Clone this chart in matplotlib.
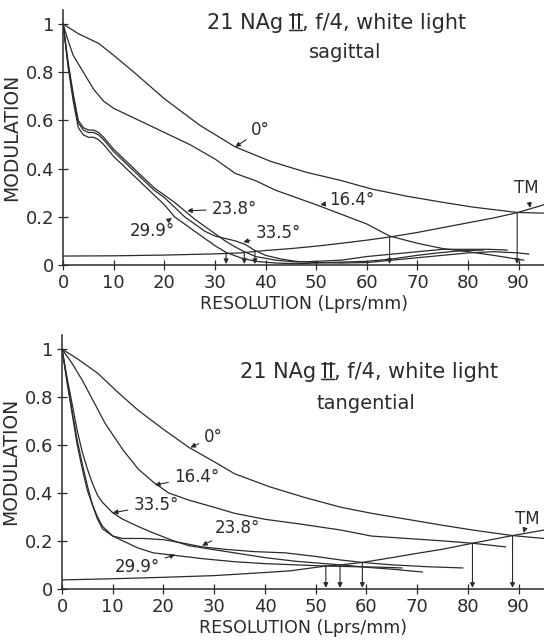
import numpy as np
import matplotlib
matplotlib.use('Agg')
import matplotlib.pyplot as plt

# ---------------- sagittal (top panel) ----------------
s_x_0 = [0, 3, 7, 10, 14, 20, 27, 34, 41, 48, 55, 61, 68, 75, 81, 89.7, 95]
s_m_0 = [1, 0.96, 0.92, 0.87, 0.8, 0.69, 0.58, 0.49, 0.43, 0.385, 0.35, 0.315, 0.285, 0.26, 0.24, 0.218, 0.215]

s_x_16 = [0, 1, 2, 4, 6, 8, 10, 12, 15, 18, 21, 25, 30, 34, 38, 42, 46, 50, 55, 60, 64.5, 70, 75, 80, 85, 91]
s_m_16 = [1, 0.93, 0.87, 0.8, 0.73, 0.68, 0.65, 0.63, 0.6, 0.57, 0.54, 0.5, 0.44, 0.38, 0.35, 0.31, 0.28,
          0.25, 0.21, 0.17, 0.12, 0.09, 0.068, 0.055, 0.04, 0.02]

s_x_23 = [0, 1, 2, 3, 4, 5, 6, 7, 8, 10, 12, 14, 16, 18, 20, 22, 24, 26, 28, 30, 32, 34, 35.8, 38, 42,
          46, 50, 55, 60, 65, 70, 75, 80, 84, 87.7]
s_m_23 = [1, 0.84, 0.71, 0.6, 0.57, 0.56, 0.56, 0.55, 0.53, 0.48, 0.44, 0.4, 0.36, 0.32, 0.29, 0.26, 0.225,
          0.19, 0.16, 0.13, 0.1, 0.075, 0.055, 0.035, 0.02, 0.012, 0.015, 0.02, 0.035, 0.045, 0.055, 0.065,
          0.065, 0.065, 0.062]

s_x_29 = [0, 1, 2, 3, 4, 5, 6, 7, 8, 10, 12, 14, 16, 18, 20, 22, 24, 26, 28, 30, 32.2, 35, 38, 42, 46,
          50, 55, 60, 65, 70, 74, 78, 83]
s_m_29 = [1, 0.82, 0.68, 0.57, 0.54, 0.53, 0.53, 0.52, 0.5, 0.45, 0.41, 0.37, 0.33, 0.29, 0.25, 0.2, 0.17,
          0.14, 0.11, 0.08, 0.052, 0.03, 0.015, 0.008, 0.005, 0.008, 0.012, 0.015, 0.025, 0.04, 0.05,
          0.058, 0.062]

s_x_33 = [0, 1, 2, 3, 4, 5, 6, 7, 8, 10, 12, 14, 16, 18, 20, 22, 24, 26, 28, 30, 32, 34, 36, 37.9, 40,
          43, 46, 50, 55, 60, 65, 70, 75, 80, 85, 90, 92]
s_m_33 = [1, 0.83, 0.7, 0.59, 0.56, 0.55, 0.55, 0.54, 0.52, 0.47, 0.43, 0.39, 0.35, 0.31, 0.28, 0.24, 0.2,
          0.17, 0.14, 0.12, 0.11, 0.1, 0.085, 0.06, 0.04, 0.025, 0.015, 0.01, 0.008, 0.01, 0.02, 0.03,
          0.04, 0.05, 0.055, 0.05, 0.045]

s_x_tm = [0, 10, 20, 30, 35, 40, 45, 50, 55, 60, 64.5, 70, 75, 80, 85, 89.7, 95]
s_m_tm = [0.037, 0.038, 0.041, 0.046, 0.05, 0.06, 0.068, 0.078, 0.09, 0.103, 0.116, 0.135, 0.155, 0.175,
          0.195, 0.217, 0.25]
s_cross = [32.2, 35.8, 37.9, 64.5, 89.7]

# ---------------- tangential (bottom panel) ----------------
t_x_0 = [0, 3, 7, 11, 15, 20, 25, 30, 34, 41, 48, 55, 61, 68, 75, 81, 88.8, 95]
t_m_0 = [1, 0.96, 0.9, 0.82, 0.745, 0.665, 0.59, 0.53, 0.48, 0.425, 0.38, 0.34, 0.315, 0.29, 0.265,
         0.245, 0.222, 0.21]

t_x_16 = [0, 2, 4, 6, 8.5, 12, 15, 18, 21, 25, 30, 34, 40, 47, 55, 61, 68, 75, 80.9, 87.4]
t_m_16 = [1, 0.94, 0.87, 0.79, 0.69, 0.58, 0.5, 0.445, 0.4, 0.37, 0.34, 0.315, 0.29, 0.27, 0.245, 0.22,
          0.21, 0.2, 0.19, 0.175]

t_x_23 = [0, 1, 2, 3, 4, 5, 6, 7, 8, 10, 12, 16, 20, 24, 27.6, 32, 38, 44, 50, 55, 59.2, 65, 72, 79]
t_m_23 = [1, 0.87, 0.74, 0.62, 0.52, 0.43, 0.35, 0.29, 0.25, 0.22, 0.21, 0.21, 0.205, 0.19, 0.175, 0.165,
          0.155, 0.15, 0.135, 0.12, 0.11, 0.1, 0.092, 0.087]

t_x_29 = [0, 1, 2, 3, 4, 5, 6, 7, 8, 10, 12, 15, 18, 22, 28, 34, 40, 46, 52, 58, 63, 67]
t_m_29 = [1, 0.86, 0.73, 0.6, 0.5, 0.41, 0.35, 0.3, 0.26, 0.22, 0.2, 0.17, 0.15, 0.14, 0.125, 0.113,
          0.105, 0.1, 0.095, 0.092, 0.09, 0.087]

t_x_33 = [0, 1, 2, 3, 4, 5, 6, 7, 8, 10, 12, 15, 18, 22, 25, 30, 34, 40, 46, 50, 54.8, 60, 66, 71]
t_m_33 = [1, 0.88, 0.77, 0.66, 0.57, 0.5, 0.44, 0.39, 0.36, 0.317, 0.29, 0.26, 0.233, 0.2, 0.18, 0.163,
          0.15, 0.13, 0.115, 0.108, 0.1, 0.09, 0.08, 0.07]

t_x_tm = [0, 10, 20, 30, 40, 45, 52, 55, 59.2, 65, 70, 75, 80.9, 88.8, 95]
t_m_tm = [0.037, 0.042, 0.048, 0.055, 0.068, 0.075, 0.095, 0.1, 0.11, 0.13, 0.148, 0.165, 0.19, 0.222, 0.245]
t_cross = [52, 54.8, 59.2, 80.9, 88.8]

x_ticks = [0, 10, 20, 30, 40, 50, 60, 70, 80, 90]
y_ticks = [0, 0.2, 0.4, 0.6, 0.8, 1]
y_ticklabels = ['0', '0.2', '0.4', '0.6', '0.8', '1']

INK = '#2b2b2b'
LW = 0.9

fig = plt.figure(figsize=(5.44, 6.4), dpi=100)


def setup(ax):
    ax.set_xlim(0, 95)
    ax.set_ylim(0, 1.06)
    for s in ['top', 'right']:
        ax.spines[s].set_visible(False)
    for s in ['left', 'bottom']:
        ax.spines[s].set_color(INK)
        ax.spines[s].set_linewidth(1.1)
    ax.set_xticks(x_ticks)
    ax.set_yticks(y_ticks)
    ax.set_yticklabels(y_ticklabels)
    ax.tick_params(direction='inout', length=7, width=0.9, colors=INK, labelsize=13, pad=3)
    ax.set_ylabel('MODULATION', fontsize=13.5, color=INK, labelpad=3)
    ax.set_xlabel('RESOLUTION (Lprs/mm)', fontsize=12.5, color=INK, labelpad=2)


def label(ax, txt, tip, pos, ha='center'):
    ax.annotate(txt, xy=tip, xytext=pos, fontsize=12, color=INK, ha=ha, va='center',
                arrowprops=dict(arrowstyle='-|>', color=INK, lw=0.8, mutation_scale=7,
                                shrinkA=2, shrinkB=0))


def drops(ax, xs, tm_x, tm_m):
    for xc in xs:
        yc = np.interp(xc, tm_x, tm_m)
        ax.annotate('', xy=(xc, 0.004), xytext=(xc, yc),
                    arrowprops=dict(arrowstyle='-|>', color=INK, lw=0.8, mutation_scale=7,
                                    shrinkA=0, shrinkB=0))


def title(ax, x, y, sub, sub_x, dy):
    fs = 15
    t1 = ax.text(x, y, '21 NAg ', fontsize=fs, color=INK, ha='left', va='baseline')
    t2 = ax.annotate('II', xy=(1, 0), xycoords=t1, fontsize=fs, color=INK, ha='left', va='bottom')
    ax.annotate(', f/4, white light', xy=(1, 0), xycoords=t2, fontsize=fs, color=INK,
                ha='left', va='bottom')
    # bars above and below the roman numeral
    for yb in (0.9, 0.12):
        ax.annotate('', xy=(-0.05, yb), xycoords=t2, xytext=(1.05, yb), textcoords=t2,
                    arrowprops=dict(arrowstyle='-', color=INK, lw=1.1, shrinkA=0, shrinkB=0))
    ax.text(sub_x, y - dy, sub, fontsize=14, color=INK, ha='center', va='baseline')


# top panel
ax1 = fig.add_axes([0.116, 0.586, 0.884, 0.399])
setup(ax1)
for xs, ms in [(s_x_0, s_m_0), (s_x_16, s_m_16), (s_x_23, s_m_23), (s_x_29, s_m_29),
               (s_x_33, s_m_33), (s_x_tm, s_m_tm)]:
    ax1.plot(xs, ms, color=INK, lw=LW)
drops(ax1, s_cross, s_x_tm, s_m_tm)
label(ax1, '0°', (34, 0.49), (39, 0.56))
label(ax1, '16.4°', (50.8, 0.25), (57, 0.27))
label(ax1, '23.8°', (24.5, 0.225), (33.8, 0.232))
label(ax1, '29.9°', (21.5, 0.195), (17.6, 0.14))
label(ax1, '33.5°', (35.6, 0.095), (42.5, 0.133))
label(ax1, 'TM', (92.3, 0.237), (91.5, 0.32))
title(ax1, 28.5, 0.98, 'sagittal', 55.7, 0.12)

# bottom panel
ax2 = fig.add_axes([0.114, 0.080, 0.886, 0.397])
setup(ax2)
for xs, ms in [(t_x_0, t_m_0), (t_x_16, t_m_16), (t_x_23, t_m_23), (t_x_29, t_m_29),
               (t_x_33, t_m_33), (t_x_tm, t_m_tm)]:
    ax2.plot(xs, ms, color=INK, lw=LW)
drops(ax2, t_cross, t_x_tm, t_m_tm)
label(ax2, '0°', (25.3, 0.59), (29.8, 0.633))
label(ax2, '16.4°', (18.3, 0.433), (26.5, 0.467))
label(ax2, '33.5°', (10, 0.317), (18.5, 0.35))
label(ax2, '23.8°', (27.6, 0.18), (34.5, 0.255))
label(ax2, '29.9°', (22.3, 0.142), (14.8, 0.092))
label(ax2, 'TM', (91, 0.233), (91.7, 0.29))
title(ax2, 35, 0.88, 'tangential', 60, 0.13)

fig.savefig('out.png', dpi=100, facecolor='white')
